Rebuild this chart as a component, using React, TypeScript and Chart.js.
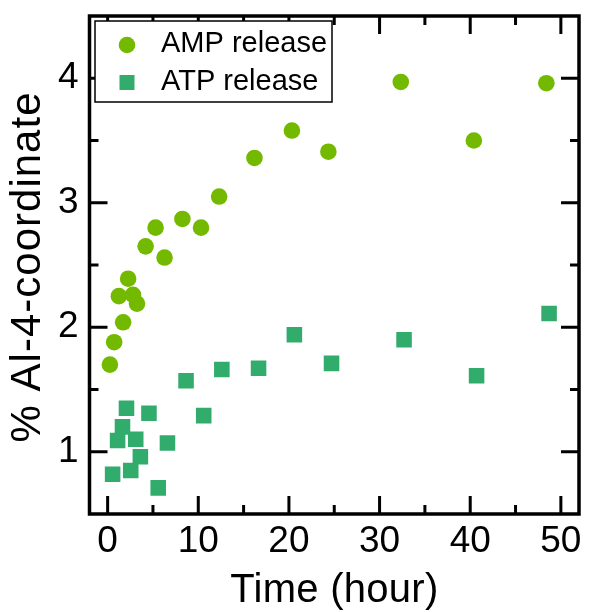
import React, { useEffect, useRef } from "react";
import { Chart, registerables } from "chart.js";

Chart.register(...registerables);

// AMP release (circles)
const ampHours = [0.25, 0.72, 1.24, 1.71, 2.26, 2.8, 3.24, 4.19, 5.29, 6.28, 8.25, 10.3, 12.3, 16.2, 20.33, 24.35, 32.34, 40.4, 48.4];
const ampValues = [1.7, 1.88, 2.25, 2.04, 2.39, 2.26, 2.19, 2.65, 2.8, 2.56, 2.87, 2.8, 3.05, 3.36, 3.58, 3.41, 3.97, 3.5, 3.96];

// ATP release (squares)
const atpHours = [0.55, 1.1, 1.64, 2.08, 2.55, 3.1, 3.61, 4.56, 5.58, 6.6, 8.65, 10.6, 12.6, 16.65, 20.6, 24.7, 32.7, 40.7, 48.7];
const atpValues = [0.82, 1.09, 1.2, 1.35, 0.85, 1.1, 0.96, 1.31, 0.71, 1.07, 1.57, 1.29, 1.66, 1.67, 1.94, 1.71, 1.9, 1.61, 2.11];

const xTicks = [0, 10, 20, 30, 40, 50];
const xMinorTicks = [5, 15, 25, 35, 45];
const yTicks = [1, 2, 3, 4];
const yMinorTicks = [1.5, 2.5, 3.5];

const seriesLabels = ["AMP release", "ATP release"];
const xTitle = "Time (hour)";
const yTitle = "% Al-4-coordinate";
const AMP_COLOR = "rgb(115,185,0)";
const ATP_COLOR = "rgb(50,172,108)";
const FONT = "'Liberation Sans', Arial, sans-serif";

function drawSpacedText(ctx: any, text: string, targetWidth: number) {
  ctx.letterSpacing = "0px";
  const w0 = ctx.measureText(text).width;
  const sp = Math.max(0, (targetWidth - w0) / (text.length - 1));
  ctx.letterSpacing = `${sp}px`;
  ctx.textAlign = "left";
  ctx.fillText(text, -targetWidth / 2, 0);
  ctx.letterSpacing = "0px";
}

const framePlugin = {
  id: "frameTicksLegend",
  afterDatasetsDraw(chart: any) {
    const { ctx, chartArea, scales } = chart;
    const { left, right, top, bottom } = chartArea;
    const xs = scales.x;
    const ys = scales.y;
    ctx.save();
    ctx.strokeStyle = "#000";
    ctx.lineWidth = 3;
    ctx.lineCap = "butt";
    const major = 18;
    const minor = 9;
    const drawX = (vals: number[], len: number) => {
      vals.forEach((v) => {
        const px = xs.getPixelForValue(v);
        ctx.beginPath();
        ctx.moveTo(px, bottom);
        ctx.lineTo(px, bottom - len);
        ctx.moveTo(px, top);
        ctx.lineTo(px, top + len);
        ctx.stroke();
      });
    };
    const drawY = (vals: number[], len: number) => {
      vals.forEach((v) => {
        const py = ys.getPixelForValue(v);
        ctx.beginPath();
        ctx.moveTo(left, py);
        ctx.lineTo(left + len, py);
        ctx.moveTo(right, py);
        ctx.lineTo(right - len, py);
        ctx.stroke();
      });
    };
    drawX(xTicks, major);
    drawX(xMinorTicks, minor);
    drawY(yTicks, major);
    drawY(yMinorTicks, minor);
    ctx.lineWidth = 3.5;
    ctx.strokeRect(left, top, right - left, bottom - top);

    // legend box
    const bx = 95, by = 21, bw = 237, bh = 81;
    ctx.fillStyle = "#fff";
    ctx.fillRect(bx, by, bw, bh);
    ctx.lineWidth = 1.5;
    ctx.strokeStyle = "#000";
    ctx.strokeRect(bx, by, bw, bh);
    const ds = chart.data.datasets;
    ctx.fillStyle = ds[0].backgroundColor;
    ctx.beginPath();
    ctx.arc(127, 45, 8.3, 0, Math.PI * 2);
    ctx.fill();
    ctx.fillStyle = ds[1].backgroundColor;
    ctx.fillRect(127 - 7.5, 82.5 - 7.5, 15, 15);
    ctx.fillStyle = "#000";
    ctx.font = `29px ${FONT}`;
    ctx.textAlign = "left";
    ctx.textBaseline = "middle";
    ctx.fillText(ds[0].label, 161, 44);
    ctx.fillText(ds[1].label, 161, 81.5);

    // axis titles
    ctx.textBaseline = "alphabetic";
    ctx.font = `40px ${FONT}`;
    ctx.save();
    ctx.translate((left + right) / 2, 601.5);
    drawSpacedText(ctx, xTitle, 208);
    ctx.restore();
    ctx.font = `42px ${FONT}`;
    ctx.save();
    ctx.translate(40, 267.5);
    ctx.rotate(-Math.PI / 2);
    drawSpacedText(ctx, yTitle, 350);
    ctx.restore();
    ctx.restore();
  },
};

export default function App() {
  const ref = useRef<HTMLCanvasElement | null>(null);
  useEffect(() => {
    if (!ref.current) return;
    const zeroPad = (s: any) => {
      s.paddingTop = 0;
      s.paddingBottom = 0;
      s.paddingLeft = 0;
      s.paddingRight = 0;
    };
    const chart = new Chart(ref.current, {
      type: "scatter",
      data: {
        datasets: [
          {
            label: seriesLabels[0],
            data: ampHours.map((x, i) => ({ x, y: ampValues[i] })),
            backgroundColor: AMP_COLOR,
            borderWidth: 0,
            pointStyle: "circle",
            pointRadius: 8.3,
          },
          {
            label: seriesLabels[1],
            data: atpHours.map((x, i) => ({ x, y: atpValues[i] })),
            backgroundColor: ATP_COLOR,
            borderWidth: 0,
            pointStyle: "rect",
            pointRadius: 11,
          },
        ],
      },
      options: {
        animation: false,
        responsive: true,
        maintainAspectRatio: false,
        layout: { padding: { top: 16, right: 6, left: 0, bottom: 0 } },
        plugins: { legend: { display: false }, tooltip: { enabled: false } },
        scales: {
          x: {
            type: "linear",
            min: -2,
            max: 52,
            grid: { display: false, drawTicks: false },
            border: { display: false },
            afterBuildTicks: (s: any) => {
              s.ticks = xTicks.map((value) => ({ value }));
            },
            afterFit: (s: any) => {
              s.height = 98;
              zeroPad(s);
            },
            ticks: {
              color: "#000",
              padding: 6,
              maxRotation: 0,
              autoSkip: false,
              font: { family: FONT, size: 37 },
            },
            title: { display: false },
          },
          y: {
            type: "linear",
            min: 0.5,
            max: 4.5,
            grid: { display: false, drawTicks: false },
            border: { display: false },
            afterBuildTicks: (s: any) => {
              s.ticks = yTicks.map((value) => ({ value }));
            },
            afterFit: (s: any) => {
              s.width = 89.5;
              zeroPad(s);
            },
            ticks: {
              color: "#000",
              padding: 11,
              autoSkip: false,
              font: { family: FONT, size: 37 },
            },
            title: { display: false },
          },
        },
      },
      plugins: [framePlugin],
    });
    return () => chart.destroy();
  }, []);
  return (
    <div style={{ position: "fixed", left: 0, top: 0, width: 590, height: 612, background: "#fff" }}>
      <canvas ref={ref} />
    </div>
  );
}
